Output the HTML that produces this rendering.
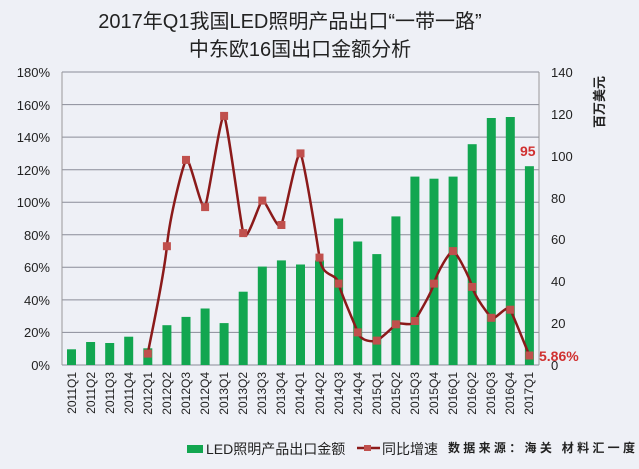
<!DOCTYPE html>
<html><head><meta charset="utf-8"><style>
html,body{margin:0;padding:0;background:#eef0f6;}
svg{display:block;font-family:"Liberation Sans","Noto Sans CJK SC",sans-serif;}
</style></head><body>
<svg width="639" height="469" viewBox="0 0 639 469" xmlns="http://www.w3.org/2000/svg">
<rect width="639" height="469" fill="#eef0f6"/>
<text x="290" y="28" font-size="20" text-anchor="middle" fill="#222">2017年Q1我国LED照明产品出口“一带一路”</text>
<text x="300" y="56" font-size="20" text-anchor="middle" fill="#222">中东欧16国出口金额分析</text>
<g stroke="#8a8c98" stroke-width="1">
<line x1="62" x2="539" y1="72" y2="72"/><line x1="62" x2="539" y1="104.6" y2="104.6"/><line x1="62" x2="539" y1="137.1" y2="137.1"/><line x1="62" x2="539" y1="169.7" y2="169.7"/><line x1="62" x2="539" y1="202.2" y2="202.2"/><line x1="62" x2="539" y1="234.8" y2="234.8"/><line x1="62" x2="539" y1="267.3" y2="267.3"/><line x1="62" x2="539" y1="299.9" y2="299.9"/><line x1="62" x2="539" y1="332.4" y2="332.4"/><line x1="62" x2="539" y1="365" y2="365"/>
</g>
<line x1="62" y1="72" x2="62" y2="365" stroke="#999"/>
<line x1="539" y1="72" x2="539" y2="365" stroke="#999"/>
<g font-size="13" fill="#222" text-anchor="end">
<text x="50" y="77">180%</text><text x="50" y="110">160%</text><text x="50" y="142">140%</text><text x="50" y="175">120%</text><text x="50" y="207">100%</text><text x="50" y="240">80%</text><text x="50" y="272">60%</text><text x="50" y="305">40%</text><text x="50" y="337">20%</text><text x="50" y="370">0%</text>
</g>
<g font-size="13" fill="#222">
<text x="551" y="77">140</text><text x="551" y="119">120</text><text x="551" y="161">100</text><text x="551" y="203">80</text><text x="551" y="244">60</text><text x="551" y="286">40</text><text x="551" y="328">20</text><text x="551" y="370">0</text>
</g>
<text transform="translate(604,102) rotate(-90)" font-size="13" font-weight="bold" text-anchor="middle" fill="#222">百万美元</text>
<g fill="#12a650">
<rect x="67" y="349.3" width="9" height="15.7"/>
<rect x="86.1" y="342" width="9" height="23"/>
<rect x="105.2" y="343" width="9" height="22"/>
<rect x="124.2" y="336.7" width="9" height="28.3"/>
<rect x="143.3" y="348.3" width="9" height="16.7"/>
<rect x="162.4" y="325.2" width="9" height="39.8"/>
<rect x="181.5" y="316.9" width="9" height="48.1"/>
<rect x="200.6" y="308.5" width="9" height="56.5"/>
<rect x="219.6" y="323.1" width="9" height="41.9"/>
<rect x="238.7" y="291.7" width="9" height="73.3"/>
<rect x="257.8" y="266.6" width="9" height="98.4"/>
<rect x="276.9" y="260.4" width="9" height="104.6"/>
<rect x="296" y="264.5" width="9" height="100.5"/>
<rect x="315" y="260.4" width="9" height="104.6"/>
<rect x="334.1" y="218.5" width="9" height="146.5"/>
<rect x="353.2" y="241.5" width="9" height="123.5"/>
<rect x="372.3" y="254.1" width="9" height="110.9"/>
<rect x="391.4" y="216.4" width="9" height="148.6"/>
<rect x="410.4" y="176.6" width="9" height="188.4"/>
<rect x="429.5" y="178.7" width="9" height="186.3"/>
<rect x="448.6" y="176.6" width="9" height="188.4"/>
<rect x="467.7" y="144.2" width="9" height="220.8"/>
<rect x="486.8" y="118" width="9" height="247"/>
<rect x="505.8" y="117" width="9" height="248"/>
<rect x="524.9" y="166.2" width="9" height="198.8"/>
</g>
<path fill="none" stroke="#8b1a1a" stroke-width="2.5" d="M147.8 353.6
C151 335.7 163.7 278.5 166.9 246.2
C170.1 213.9 182.8 166.4 186 159.9
C189.2 153.4 201.9 214.4 205.1 207.1
C208.3 199.8 220.9 111.6 224.1 115.9
C227.3 120.2 240 219 243.2 233.1
C246.4 247.2 259.1 202 262.3 200.6
C265.5 199.2 278.2 232.9 281.4 225
C284.6 217.1 297.3 148 300.5 153.4
C303.7 158.8 316.3 235.9 319.5 257.6
C322.7 279.3 335.4 271.1 338.6 283.6
C341.8 296.1 354.5 322.9 357.7 332.4
C360.9 341.9 373.6 342 376.8 340.6
C380 339.2 392.7 327.6 395.9 324.3
C399.1 321 411.7 327.8 414.9 321
C418.1 314.2 430.8 295.3 434 283.6
C437.2 271.9 449.9 250.6 453.1 251.1
C456.3 251.6 469 275.8 472.2 286.9
C475.4 298 488.1 314 491.3 317.8
C494.5 321.6 507.1 303.4 510.3 309.7
C513.5 316 526.2 347.9 529.4 355.5"/>
<g fill="#c0504d">
<rect x="143.8" y="349.6" width="8" height="8"/>
<rect x="162.9" y="242.2" width="8" height="8"/>
<rect x="182" y="155.9" width="8" height="8"/>
<rect x="201.1" y="203.1" width="8" height="8"/>
<rect x="220.1" y="111.9" width="8" height="8"/>
<rect x="239.2" y="229.1" width="8" height="8"/>
<rect x="258.3" y="196.6" width="8" height="8"/>
<rect x="277.4" y="221" width="8" height="8"/>
<rect x="296.5" y="149.4" width="8" height="8"/>
<rect x="315.5" y="253.6" width="8" height="8"/>
<rect x="334.6" y="279.6" width="8" height="8"/>
<rect x="353.7" y="328.4" width="8" height="8"/>
<rect x="372.8" y="336.6" width="8" height="8"/>
<rect x="391.9" y="320.3" width="8" height="8"/>
<rect x="410.9" y="317" width="8" height="8"/>
<rect x="430" y="279.6" width="8" height="8"/>
<rect x="449.1" y="247.1" width="8" height="8"/>
<rect x="468.2" y="282.9" width="8" height="8"/>
<rect x="487.3" y="313.8" width="8" height="8"/>
<rect x="506.3" y="305.7" width="8" height="8"/>
<rect x="525.4" y="351.5" width="8" height="8"/>
</g>
<text x="520" y="156" font-size="14" font-weight="bold" fill="#d03030">95</text>
<text x="539" y="361" font-size="14" font-weight="bold" fill="#d03030">5.86%</text>
<g font-size="12" fill="#222" text-anchor="end">
<text transform="translate(76,372) rotate(-90)">2011Q1</text>
<text transform="translate(95,372) rotate(-90)">2011Q2</text>
<text transform="translate(114,372) rotate(-90)">2011Q3</text>
<text transform="translate(133,372) rotate(-90)">2011Q4</text>
<text transform="translate(152,372) rotate(-90)">2012Q1</text>
<text transform="translate(171,372) rotate(-90)">2012Q2</text>
<text transform="translate(190,372) rotate(-90)">2012Q3</text>
<text transform="translate(209,372) rotate(-90)">2012Q4</text>
<text transform="translate(228,372) rotate(-90)">2013Q1</text>
<text transform="translate(247,372) rotate(-90)">2013Q2</text>
<text transform="translate(266,372) rotate(-90)">2013Q3</text>
<text transform="translate(285,372) rotate(-90)">2013Q4</text>
<text transform="translate(304,372) rotate(-90)">2014Q1</text>
<text transform="translate(324,372) rotate(-90)">2014Q2</text>
<text transform="translate(343,372) rotate(-90)">2014Q3</text>
<text transform="translate(362,372) rotate(-90)">2014Q4</text>
<text transform="translate(381,372) rotate(-90)">2015Q1</text>
<text transform="translate(400,372) rotate(-90)">2015Q2</text>
<text transform="translate(419,372) rotate(-90)">2015Q3</text>
<text transform="translate(438,372) rotate(-90)">2015Q4</text>
<text transform="translate(457,372) rotate(-90)">2016Q1</text>
<text transform="translate(476,372) rotate(-90)">2016Q2</text>
<text transform="translate(495,372) rotate(-90)">2016Q3</text>
<text transform="translate(514,372) rotate(-90)">2016Q4</text>
<text transform="translate(533,372) rotate(-90)">2017Q1</text>
</g>
<rect x="187" y="445" width="16" height="8" fill="#12a650"/>
<text x="206" y="454" font-size="14" fill="#222">LED照明产品出口金额</text>
<line x1="357" y1="448" x2="380" y2="448" stroke="#8b1a1a" stroke-width="2.5"/>
<rect x="364" y="445" width="7" height="6" fill="#c0504d"/>
<text x="382" y="454" font-size="14" fill="#222">同比增速</text>
<text x="448" y="452" font-size="12" font-weight="bold" fill="#222" textLength="187" lengthAdjust="spacing">数据来源：海关  材料汇一度</text>
</svg>
</body></html>
